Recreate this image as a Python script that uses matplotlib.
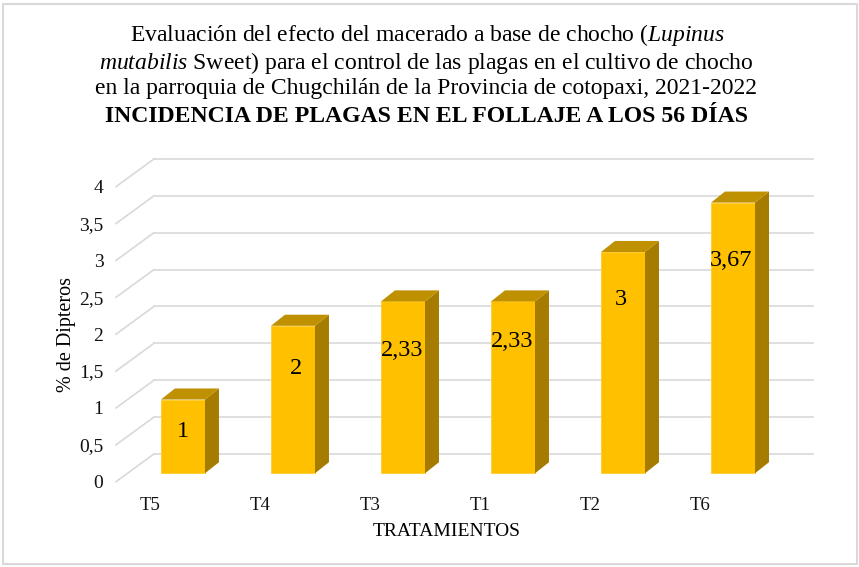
import matplotlib
matplotlib.use("Agg")
import matplotlib.pyplot as plt
from matplotlib.patches import Polygon, Rectangle

plt.rcParams["font.family"] = ["Liberation Serif", "DejaVu Serif"]
plt.rcParams["mathtext.fontset"] = "custom"
plt.rcParams["mathtext.rm"] = "Liberation Serif"
plt.rcParams["mathtext.it"] = "Liberation Serif:italic"

treatments = ["T5", "T4", "T3", "T1", "T2", "T6"]
values = [1, 2, 2.33, 2.33, 3, 3.67]
value_labels = ["1", "2", "2,33", "2,33", "3", "3,67"]
y_ticks = [0, 0.5, 1, 1.5, 2, 2.5, 3, 3.5, 4]
y_tick_labels = ["0", "0,5", "1", "1,5", "2", "2,5", "3", "3,5", "4"]
label_heights = [0.685, 1.54, 1.78, 1.90, 2.47, 3.00]
label_shift = [0.0, 0.03, -0.01, -0.01, -0.02, -0.02]

W, H = 859, 567
# floor/wall offsets in data units
WALL_DX, WALL_DY = 0.345, 0.376
BAR_DX, BAR_DY = 0.127, 0.15
BAR_LIFT = 0.114
BAR_W = 0.4

fig = plt.figure(figsize=(W / 100, H / 100), dpi=100)
fig.patches.append(Rectangle((3.5 / W, 1 - 563.5 / H), 853 / W, 559.5 / H,
                             transform=fig.transFigure, fc="white",
                             ec="#d9d9d9", lw=1.5, zorder=-1))

ax = fig.add_axes([116 / W, 1 - 481.7 / H, (813 - 116) / W, (481.7 - 158.5) / H])
ax.patch.set_visible(False)
ax.set_xlim(-0.609, 5.727)
ax.set_ylim(0, 4.382)
for sp in ax.spines.values():
    sp.set_visible(False)

# back wall gridlines and the slanted ones on the left side
for y in y_ticks:
    ax.plot([-0.609 + WALL_DX, 5.727], [y + WALL_DY, y + WALL_DY],
            color="#d9d9d9", lw=1.2, zorder=1, clip_on=False)
    ax.plot([-0.609, -0.609 + WALL_DX], [y, y + WALL_DY],
            color="#d9d9d9", lw=1.2, zorder=1, clip_on=False)

xs = list(range(len(values)))
ax.bar(xs, values, width=BAR_W, bottom=BAR_LIFT, color="#FFC000",
       edgecolor="#FFCB2E", linewidth=0.6, zorder=3)
for x, v in zip(xs, values):
    x1 = x + BAR_W / 2
    x0 = x - BAR_W / 2
    top = v + BAR_LIFT
    ax.add_patch(Polygon([(x1, BAR_LIFT), (x1 + BAR_DX, BAR_LIFT + BAR_DY),
                          (x1 + BAR_DX, top + BAR_DY), (x1, top)],
                         fc="#A67C00", ec="none", zorder=3))
    ax.add_patch(Polygon([(x0, top), (x0 + BAR_DX, top + BAR_DY),
                          (x1 + BAR_DX, top + BAR_DY), (x1, top)],
                         fc="#BF9000", ec="none", zorder=3))

for x, s, h, lab in zip(xs, label_shift, label_heights, value_labels):
    ax.text(x + s, h, lab, ha="center", va="center", fontsize=17.5, zorder=4)

ax.set_yticks(y_ticks)
ax.set_yticklabels(y_tick_labels, fontsize=14, color="#111111")
ax.tick_params(axis="y", length=0, pad=9)
ax.set_xticks([x - 0.3 for x in xs])
ax.set_xticklabels(treatments, fontsize=13.5, color="#111111")
ax.tick_params(axis="x", length=0, pad=11)

fig.text(447 / W, 1 - 531 / H, "TRATAMIENTOS", ha="center", va="center", fontsize=14)
fig.text(66 / W, 1 - 334 / H, "% de Dipteros", rotation=90, ha="center", va="center", fontsize=14.5)

fig.text(427 / W, 1 - 35 / H, r"Evaluación del efecto del macerado a base de chocho ($\mathit{Lupinus}$",
         ha="center", va="center", fontsize=17)
fig.text(426.5 / W, 1 - 63 / H, r"$\mathit{mutabilis}$ Sweet) para el control de las plagas en el cultivo de chocho",
         ha="center", va="center", fontsize=17)
fig.text(426 / W, 1 - 89 / H, "en la parroquia de Chugchilán de la Provincia de cotopaxi, 2021-2022",
         ha="center", va="center", fontsize=17)
fig.text(426.5 / W, 1 - 116.5 / H, "INCIDENCIA DE PLAGAS EN EL FOLLAJE A LOS 56 DÍAS",
         ha="center", va="center", fontsize=17.1, fontweight="bold")

fig.savefig("out.png", dpi=100)
